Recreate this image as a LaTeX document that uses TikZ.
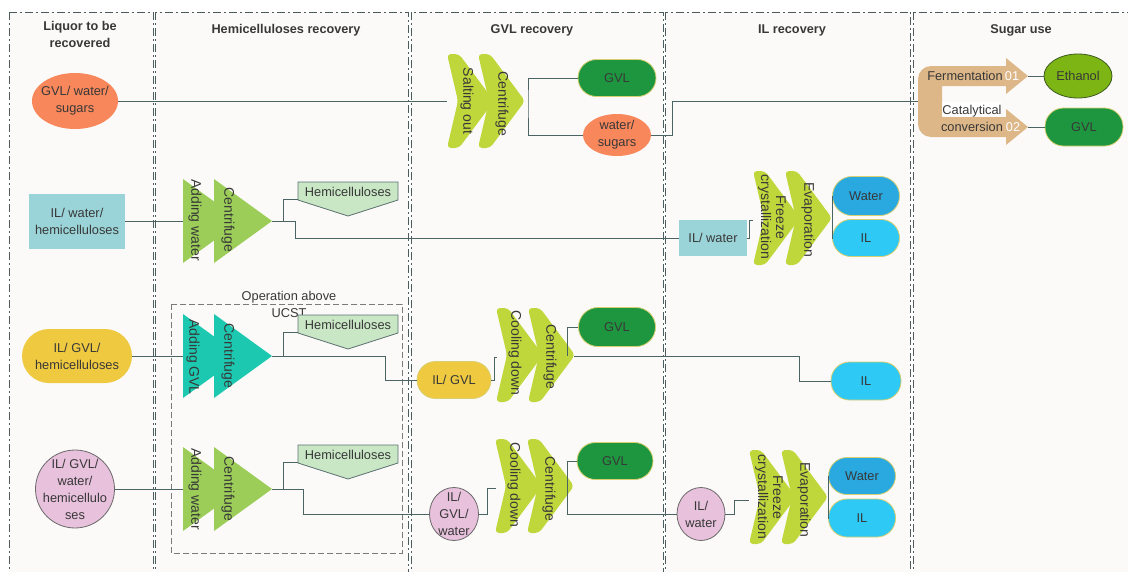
\documentclass[tikz,border=0pt]{standalone}
\usepackage{fontspec}
\setmainfont{Liberation Sans}
\usetikzlibrary{shapes.geometric}
\definecolor{bgc}{HTML}{FCFAF8}
\definecolor{bord}{HTML}{4A5C5C}
\definecolor{lnc}{HTML}{4A6464}
\definecolor{txc}{HTML}{383838}
\definecolor{orngc}{HTML}{F8875B}
\definecolor{limec}{HTML}{C0D73C}
\definecolor{grtri}{HTML}{9BCD58}
\definecolor{tltri}{HTML}{1CC9B0}
\definecolor{tlrect}{HTML}{9BD4D8}
\definecolor{dgreen}{HTML}{1E963F}
\definecolor{pillbd}{HTML}{D8CF70}
\definecolor{wblue}{HTML}{2AA9E0}
\definecolor{ilblue}{HTML}{2EC9F4}
\definecolor{yellc}{HTML}{EFC93F}
\definecolor{pinkc}{HTML}{E8C1DC}
\definecolor{pinkbd}{HTML}{6A6A6A}
\definecolor{hemic}{HTML}{C9E6C5}
\definecolor{hemibd}{HTML}{5A7070}
\definecolor{ethac}{HTML}{7DB515}
\definecolor{ethbd}{HTML}{3C5A1E}
\definecolor{tanc}{HTML}{DDB788}
\definecolor{boxbd}{HTML}{7A7A7A}
\tikzset{
 colbox/.style={draw=bord, fill=bgc, line width=0.9pt, dash pattern=on 8pt off 3pt on 2pt off 3pt},
 ttl/.style={font=\fontsize{12.7}{17}\selectfont\bfseries, text=txc, align=center},
 lbl/.style={font=\fontsize{12.8}{17}\selectfont, text=txc, align=center, inner sep=0pt},
 vlbl/.style={font=\fontsize{14}{15}\selectfont, text=txc, align=center, rotate=-90, inner sep=0pt},
 conn/.style={draw=lnc, line width=0.9pt},
 pill/.style={lbl, rectangle, rounded corners=18.5pt, minimum height=37pt, line width=0.8pt},
 ell/.style={ellipse, inner sep=0pt, line width=0.8pt},
 sqbox/.style={lbl, rectangle, line width=0pt},
 chev/.pic={\fill[limec, rounded corners=4pt] (11,0) -- (0,-47) -- (12,-47) -- (47,0) -- (12,47) -- (0,47) -- cycle;},
 tri/.pic={\fill[#1] (0,-42) -- (58,0) -- (0,42) -- cycle;},
 hemi/.pic={\filldraw[fill=hemic, draw=hemibd, line width=0.8pt] (0,0) -- (100,0) -- (100,18) -- (50,34) -- (0,18) -- cycle;}
}
\begin{document}
\begin{tikzpicture}[x=1pt,y=-1pt]
\useasboundingbox (0,0) rectangle (1128,571);
\clip (0,0) rectangle (1128,571);
\fill[white] (0,0) rectangle (1128,571);
\foreach \a/\b in {9/153,155.5/408,411/663,665.5/910.5,913/1140}
  \draw[colbox] (\a,12) rectangle (\b,600);
% titles
\node[ttl] (T1) at (80,34) {Liquor to be\\recovered};
\node[ttl] (T2) at (286,30) {Hemicelluloses recovery};
\node[ttl] (T3) at (532,30) {GVL recovery};
\node[ttl] (T4) at (792,30) {IL recovery};
\node[ttl] (T5) at (1021,30) {Sugar use};
% dashed box
\draw[draw=boxbd, line width=0.9pt, dash pattern=on 6pt off 3pt] (171,304) rectangle (402,553);
\node[lbl] (ucst) at (289,304) {Operation above\\UCST};
% process shapes
\pic at (447,101) {chev};
\pic at (478,101) {chev};
\pic at (753,218) {chev};
\pic at (785,218) {chev};
\pic at (496,355) {chev};
\pic at (528,355) {chev};
\pic at (495,486) {chev};
\pic at (527,486) {chev};
\pic at (749,497) {chev};
\pic at (781,497) {chev};
\pic at (183,221) {tri=grtri};
\pic at (214,221) {tri=grtri};
\pic at (183,356) {tri=tltri};
\pic at (214,356) {tri=tltri};
\pic at (183,489) {tri=grtri};
\pic at (214,489) {tri=grtri};
\pic at (298,182) {hemi};
\pic at (298,315) {hemi};
\pic at (298,445) {hemi};
% sugar use U shape
\fill[tanc] (942,86) -- (1006,86) -- (1006,94) -- (1028,76) -- (1006,58) -- (1006,66) -- (990,66)
  [rounded corners=13pt] -- (918,66) -- (918,137) -- (990,137) [sharp corners] -- (1006,137)
  -- (1006,145) -- (1028,127) -- (1006,109) -- (1006,117) -- (942,117) -- cycle;
\fill[white] (942,102) rectangle (1001,116);
% coordinates
\coordinate (c1in) at (447,101);
\coordinate (j1) at (672,101);
\coordinate (uin) at (918,101);
\coordinate (u1) at (1028,76);
\coordinate (u2) at (1028,127);
\coordinate (t2in) at (183,221);
\coordinate (t2out) at (272,221);
\coordinate (h2in) at (298,199);
\coordinate (fz2in) at (753,220);
\coordinate (t3in) at (183,356);
\coordinate (t3out) at (272,356);
\coordinate (h3in) at (298,332);
\coordinate (cd3in) at (497,357);
\coordinate (cf3out) at (574,356);
\coordinate (t4in) at (183,489);
\coordinate (t4out) at (272,489);
\coordinate (h4in) at (298,462);
\coordinate (cd4in) at (496,488);
\coordinate (fz4in) at (749,500);
% nodes row 1
\node[ell, fill=orngc, minimum width=86pt, minimum height=56pt] (o1) at (75,101) {};
\node[lbl] (o1t) at (o1) {GVL/ water/\\sugars};
\node[pill, fill=dgreen, draw=pillbd, minimum width=78pt] (g1) at (617,78) {GVL};
\node[ell, fill=orngc, minimum width=68pt, minimum height=42pt] (ws1) at (617,135) {};
\node[lbl] (ws1t) at (ws1) {water/\\sugars};
\node[ell, fill=ethac, draw=ethbd, minimum width=68pt, minimum height=44pt] (eth) at (1078,76) {};
\node[lbl] (etht) at (eth) {Ethanol};
\node[pill, fill=dgreen, draw=pillbd, minimum width=78pt, minimum height=38pt] (g5) at (1084,127) {GVL};
\node[lbl] (ferm) at (965,76) {Fermentation};
\node[lbl, text=white] (n01) at (1012,76) {01};
\node[lbl] (cat) at (972,118) {Catalytical\\conversion};
\node[lbl, text=white] (n02) at (1013,127) {02};
% row 2
\node[sqbox, fill=tlrect, minimum width=96pt, minimum height=55pt] (r2) at (77,221) {IL/ water/\\hemicelluloses};
\node[lbl] (h2t) at (348,192) {Hemicelluloses};
\node[sqbox, fill=tlrect, minimum width=68pt, minimum height=36pt] (ilw2) at (713,238) {IL/ water};
\node[pill, fill=wblue, draw=pillbd, minimum width=67pt, minimum height=39pt, rounded corners=19.5pt] (wat2) at (866,196) {Water};
\node[pill, fill=ilblue, draw=pillbd, minimum width=67pt] (il2) at (866,238) {IL};
% row 3
\node[pill, fill=yellc, minimum width=110pt, minimum height=54pt, rounded corners=27pt] (y3) at (77,356) {IL/ GVL/\\hemicelluloses};
\node[lbl] (h3t) at (348,325) {Hemicelluloses};
\node[pill, fill=yellc, draw=pillbd, minimum width=74pt] (ig3) at (454,380) {IL/ GVL};
\node[pill, fill=dgreen, draw=pillbd, minimum width=77pt, minimum height=39pt, rounded corners=19.5pt] (g3) at (617,327) {GVL};
\node[pill, fill=ilblue, draw=pillbd, minimum width=70pt, minimum height=38pt] (il3) at (866,381) {IL};
% row 4
\node[ell, fill=pinkc, draw=pinkbd, minimum width=79pt, minimum height=78pt] (p4) at (75,489) {};
\node[lbl] (p4t) at (75,489) {IL/ GVL/\\water/\\hemicellulo\\ses};
\node[lbl] (h4t) at (348,455) {Hemicelluloses};
\node[ell, fill=pinkc, draw=pinkbd, minimum width=49pt, minimum height=53pt] (igw4) at (454,514) {};
\node[lbl] (igw4t) at (454,514) {IL/\\GVL/\\water};
\node[pill, fill=dgreen, draw=pillbd, minimum width=76pt] (g4) at (615,461) {GVL};
\node[ell, fill=pinkc, draw=pinkbd, minimum width=48pt, minimum height=53pt] (iw4) at (701,514) {};
\node[lbl] (iw4t) at (701,514) {IL/\\water};
\node[pill, fill=wblue, draw=pillbd, minimum width=67pt] (wat4) at (862,476) {Water};
\node[pill, fill=ilblue, draw=pillbd, minimum width=67pt, minimum height=38pt] (il4) at (862,518) {IL};
% connectors
\draw[conn] (o1.east) -- (c1in);
\draw[conn] (g1.west) -| (528,101) |- (ws1.west);
\draw[conn] (ws1.east) -| (j1) -- (uin);
\draw[conn] (u1) -- (eth.west);
\draw[conn] (u2) -- (g5.west);
\draw[conn] (r2.east) -- (t2in);
\draw[conn] (t2out) -- (283,221) |- (h2in);
\draw[conn] (283,221) -- (295,221) |- (ilw2.west);
\draw[conn] (ilw2.east) -- (749,238) |- (fz2in);
\draw[conn] (wat2.west) -- (832,196) |- (il2.west);
\draw[conn] (y3.east) -- (t3in);
\draw[conn] (t3out) -- (283,356) |- (h3in);
\draw[conn] (283,356) -- (385,356) |- (ig3.west);
\draw[conn] (ig3.east) -- (494,380) |- (cd3in);
\draw[conn] (cf3out) -- (799,356) |- (il3.west);
\draw[conn] (567,356) |- (g3.west);
\draw[conn] (p4.east) -- (t4in);
\draw[conn] (t4out) -- (283,489) |- (h4in);
\draw[conn] (283,489) -- (303,489) |- (igw4.west);
\draw[conn] (igw4.east) -- (487,514) |- (cd4in);
\draw[conn] (g4.west) -| (567,514) -- (iw4.west);
\draw[conn] (iw4.east) -- (734,514) |- (fz4in);
\draw[conn] (wat4.west) -- (828,476) |- (il4.west);
% vertical labels
\node[vlbl] (sl1) at (467,101) {Salting out};
\node[vlbl] (cf1) at (502,104) {Centrifuge};
\node[vlbl] (aw2) at (195,220) {Adding water};
\node[vlbl] (cf2) at (228,220) {Centrifuge};
\node[vlbl] (fz2) at (772,217) {Freeze\\crystallization};
\node[vlbl] (ev2) at (808,220) {Evaporation};
\node[vlbl] (ag3) at (193,357) {Adding GVL};
\node[vlbl] (cf3) at (228,356) {Centrifuge};
\node[vlbl] (cd3) at (515,353) {Cooling down};
\node[vlbl] (cf3b) at (550,357) {Centrifuge};
\node[vlbl] (aw4) at (195,489) {Adding water};
\node[vlbl] (cf4) at (228,489) {Centrifuge};
\node[vlbl] (cd4) at (514,485) {Cooling down};
\node[vlbl] (cf4b) at (549,489) {Centrifuge};
\node[vlbl] (fz4) at (769,497) {Freeze\\crystallization};
\node[vlbl] (ev4) at (804,500) {Evaporation};
\end{tikzpicture}
\end{document}
